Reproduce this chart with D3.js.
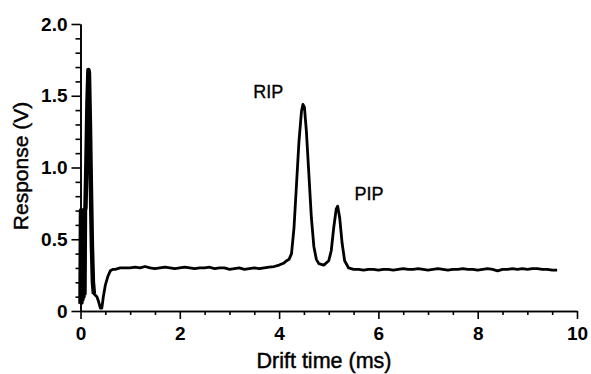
<!DOCTYPE html>
<html>
<head>
<meta charset="utf-8">
<script src="https://cdn.jsdelivr.net/npm/d3@7"></script>
<style>
  html, body { margin: 0; padding: 0; background: #fff; }
  svg { display: block; }
  text { font-family: "Liberation Sans", Arial, Helvetica, sans-serif; fill: #000; }
</style>
</head>
<body>
<svg id="chart" width="591" height="374"></svg>
<script>
// ---- data ----
const driftTime = [
  0.00, 0.01, 0.02, 0.03, 0.04, 0.05, 0.06, 0.07, 0.08, 0.09,
  0.10, 0.12, 0.14, 0.16, 0.17, 0.19, 0.21, 0.23, 0.25, 0.27,
  0.30, 0.33, 0.36, 0.40, 0.43, 0.46, 0.50, 0.55, 0.60, 0.65,
  0.70, 0.80, 0.90, 1.00, 1.10, 1.20, 1.30, 1.40, 1.50, 1.60,
  1.70, 1.80, 1.90, 2.00, 2.10, 2.20, 2.30, 2.40, 2.50, 2.60,
  2.70, 2.80, 2.90, 3.00, 3.10, 3.20, 3.30, 3.40, 3.50, 3.60,
  3.70, 3.80, 3.90, 4.00, 4.10, 4.15, 4.20, 4.25, 4.30, 4.35,
  4.40, 4.45, 4.48, 4.51, 4.55, 4.60, 4.65, 4.70, 4.75, 4.80,
  4.90, 5.00, 5.05, 5.10, 5.15, 5.18, 5.22, 5.27, 5.32, 5.40,
  5.50, 5.60, 5.70, 5.80, 5.90, 6.00, 6.10, 6.20, 6.30, 6.40,
  6.50, 6.60, 6.70, 6.80, 6.90, 7.00, 7.10, 7.20, 7.30, 7.40,
  7.50, 7.60, 7.70, 7.80, 7.90, 8.00, 8.10, 8.20, 8.30, 8.40,
  8.50, 8.60, 8.70, 8.80, 8.90, 9.00, 9.10, 9.20, 9.30, 9.40,
  9.50, 9.60
];
const response = [
  0.05, 0.70, 0.06, 0.68, 0.08, 0.70, 0.10, 0.69, 0.12, 0.70,
  0.72, 1.05, 1.45, 1.68, 1.66, 1.30, 0.85, 0.45, 0.20, 0.12,
  0.11, 0.10, 0.07, 0.02, 0.02, 0.10, 0.18, 0.24, 0.28, 0.29,
  0.29, 0.30, 0.30, 0.30, 0.305, 0.30, 0.31, 0.30, 0.295, 0.30,
  0.305, 0.30, 0.295, 0.30, 0.305, 0.30, 0.295, 0.30, 0.30, 0.305,
  0.295, 0.30, 0.30, 0.29, 0.295, 0.30, 0.29, 0.295, 0.30, 0.295,
  0.30, 0.305, 0.31, 0.32, 0.335, 0.35, 0.36, 0.40, 0.58, 0.88,
  1.18, 1.39, 1.44, 1.42, 1.25, 0.95, 0.65, 0.45, 0.36, 0.33,
  0.32, 0.35, 0.42, 0.58, 0.71, 0.73, 0.65, 0.47, 0.35, 0.30,
  0.29, 0.29, 0.285, 0.29, 0.29, 0.285, 0.29, 0.29, 0.285, 0.29,
  0.295, 0.29, 0.29, 0.295, 0.29, 0.285, 0.29, 0.295, 0.29, 0.285,
  0.29, 0.29, 0.295, 0.29, 0.29, 0.285, 0.29, 0.295, 0.29, 0.28,
  0.29, 0.29, 0.295, 0.29, 0.295, 0.29, 0.295, 0.295, 0.29, 0.29,
  0.285, 0.285
];
const xMajorTicks = [0, 2, 4, 6, 8, 10];
const xTickLabels = ["0", "2", "4", "6", "8", "10"];
const xMinorTicks = [0.5, 1, 1.5, 2.5, 3, 3.5, 4.5, 5, 5.5, 6.5, 7, 7.5, 8.5, 9, 9.5];
const yMajorTicks = [0, 0.5, 1.0, 1.5, 2.0];
const yTickLabels = ["0", "0.5", "1.0", "1.5", "2.0"];
const yMinorTicks = [0.1, 0.2, 0.3, 0.4, 0.6, 0.7, 0.8, 0.9, 1.1, 1.2, 1.3, 1.4, 1.6, 1.7, 1.8, 1.9];
const peakLabels = ["RIP", "PIP"];
const peakLabelTime = [3.78, 5.81];
const peakLabelValue = [1.484, 0.774];
const xTitle = "Drift time (ms)";
const yTitle = "Response (V)";

// ---- drawing ----
const svg = d3.select("#chart");
const x = d3.scaleLinear().domain([0, 10]).range([80.5, 577]);
const y = d3.scaleLinear().domain([0, 2]).range([311, 24]);

const pts = driftTime.map((t, i) => [t, response[i]]);
const line = d3.line().x(d => x(d[0])).y(d => y(d[1]));

// data line
svg.append("path")
  .datum(pts)
  .attr("fill", "none")
  .attr("stroke", "#000")
  .attr("stroke-width", 2.8)
  .attr("stroke-linejoin", "round")
  .attr("d", line);

// the noisy start-up pulse is drawn thicker, as in the reference
svg.append("path")
  .datum(pts.filter(d => d[0] <= 0.27))
  .attr("fill", "none")
  .attr("stroke", "#000")
  .attr("stroke-width", 4.5)
  .attr("stroke-linejoin", "round")
  .attr("d", line);

// axes
function styleAxis(g) {
  g.selectAll("path.domain").attr("stroke", "#000").attr("stroke-width", 1.6);
  g.selectAll(".tick line").attr("stroke", "#000").attr("stroke-width", 1.6);
  g.selectAll(".tick text")
    .style("font-size", "19px")
    .style("font-weight", "bold")
    .attr("fill", "#000");
}

const xMinor = svg.append("g").attr("transform", `translate(0,${y(0)})`)
  .call(d3.axisBottom(x).tickValues(xMinorTicks).tickSize(4).tickSizeOuter(0).tickFormat(""));
styleAxis(xMinor);
const xMajor = svg.append("g").attr("transform", `translate(0,${y(0)})`)
  .call(d3.axisBottom(x).tickValues(xMajorTicks).tickSize(8).tickSizeOuter(0).tickPadding(8)
    .tickFormat((d, i) => xTickLabels[i]));
styleAxis(xMajor);

const yMinor = svg.append("g").attr("transform", `translate(${x(0)},0)`)
  .call(d3.axisLeft(y).tickValues(yMinorTicks).tickSize(5).tickSizeOuter(0).tickFormat(""));
styleAxis(yMinor);
const yMajor = svg.append("g").attr("transform", `translate(${x(0)},0)`)
  .call(d3.axisLeft(y).tickValues(yMajorTicks).tickSize(9).tickSizeOuter(0).tickPadding(4)
    .tickFormat((d, i) => yTickLabels[i]));
styleAxis(yMajor);

// axis titles
svg.append("text")
  .attr("x", 324).attr("y", 368)
  .attr("text-anchor", "middle")
  .style("font-size", "21.5px")
  .attr("stroke", "#000").attr("stroke-width", 0.45)
  .text(xTitle);

svg.append("text")
  .attr("transform", "translate(28,166) rotate(-90)")
  .attr("text-anchor", "middle")
  .style("font-size", "21px")
  .attr("stroke", "#000").attr("stroke-width", 0.45)
  .text(yTitle);

// peak labels
svg.selectAll("text.peak")
  .data(peakLabels)
  .enter().append("text")
  .attr("class", "peak")
  .attr("x", (d, i) => x(peakLabelTime[i]))
  .attr("y", (d, i) => y(peakLabelValue[i]))
  .attr("text-anchor", "middle")
  .style("font-size", "18px")
  .attr("stroke", "#000").attr("stroke-width", 0.35)
  .text(d => d);
</script>
</body>
</html>
